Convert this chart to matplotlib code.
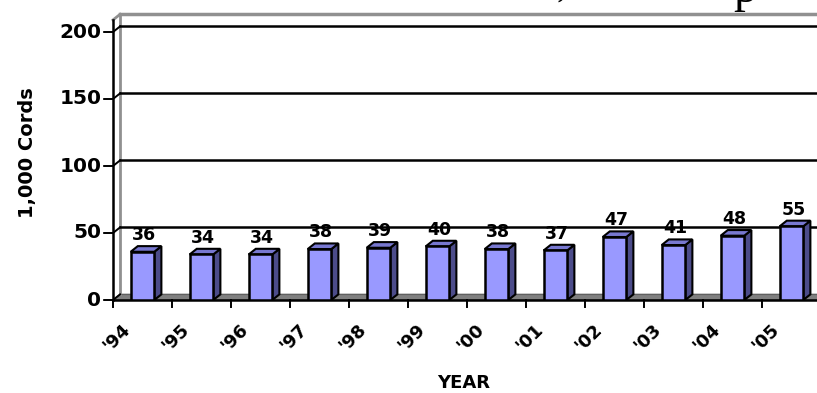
import numpy as np
import matplotlib
matplotlib.use("Agg")
import matplotlib.pyplot as plt
from matplotlib.patches import Polygon, Rectangle
from matplotlib.transforms import offset_copy

years = ["'94", "'95", "'96", "'97", "'98", "'99", "'00", "'01", "'02", "'03", "'04", "'05"]
cords = [36, 34, 34, 38, 39, 40, 38, 37, 47, 41, 48, 55]
yticks = [0, 50, 100, 150, 200]

plt.rcParams['font.family'] = ['DejaVu Sans']

fig = plt.figure(figsize=(8.17, 3.93), dpi=100)
ax = fig.add_axes([113 / 817, 93 / 393, 708 / 817, 268 / 393])
ax.set_xlim(0, len(years))
ax.set_ylim(0, 200)
ax.axis('off')

# 3d depth in data units
dx, dy = 0.12, 4.2
w = 0.40
n = len(years)

# back wall + floor
ax.add_patch(Polygon([(0, 0), (n + 1, 0), (n + 1 + dx, dy), (dx, dy)],
                     closed=True, fc='#808080', ec='#606060', lw=1, zorder=1, clip_on=False))
ax.plot([dx, dx], [dy, 209 + dy], color='#909090', lw=2, zorder=1, clip_on=False)
ax.plot([0, dx], [209, 209 + dy], color='#909090', lw=2, zorder=1, clip_on=False)
ax.plot([dx, n + 1], [209 + dy, 209 + dy], color='#909090', lw=2.5, zorder=1, clip_on=False)
for v in yticks[1:]:
    ax.plot([dx, n + 1], [v + dy, v + dy], color='black', lw=1.8, zorder=1, clip_on=False)
for v in yticks:
    ax.plot([-0.15, 0, dx], [v, v, v + dy], color='black', lw=1.4, zorder=3, clip_on=False)
    ax.text(-0.2, v, str(v), ha='right', va='center', fontsize=14.5, fontweight='bold')

# front axes lines
ax.plot([0, 0], [0, 209], color='black', lw=1.8, zorder=3, clip_on=False)
ax.plot([0, n + 1], [0, 0], color='black', lw=1.8, zorder=3, clip_on=False)
for i in range(n + 1):
    ax.plot([i, i], [0, -5], color='black', lw=1.4, zorder=3, clip_on=False)

# bars
for i, v in enumerate(cords):
    c = i + 0.5
    x0, x1 = c - w / 2, c + w / 2
    ax.add_patch(Polygon([(x1, 0), (x1 + dx, dy), (x1 + dx, v + dy), (x1, v)],
                         closed=True, fc='#4C4C8A', ec='black', lw=1.5, zorder=4))
    ax.add_patch(Polygon([(x0, v), (x1, v), (x1 + dx, v + dy), (x0 + dx, v + dy)],
                         closed=True, fc='#7878D0', ec='black', lw=1.5, zorder=4))
    ax.add_patch(Rectangle((x0, 0), w, v, fc='#9999FF', ec='black', lw=1.8, zorder=5))
    ax.text(c + 0.03, v + dy + 4.6, str(v), ha='center', va='baseline',
            fontsize=12.5, fontweight='bold', zorder=6)

# category labels
lab_tr = offset_copy(ax.transData, fig=fig, x=-26, y=-38, units='dots')
for i, yr in enumerate(years):
    ax.text(i + 0.5, 0, yr, transform=lab_tr, rotation=45, rotation_mode='anchor',
            ha='center', va='center', fontsize=13, fontweight='bold')

fig.text(464 / 817, 1 - 383 / 393, 'YEAR', ha='center', va='center',
         fontsize=13, fontweight='bold')
fig.text(28 / 817, 1 - 153 / 393, '1,000 Cords', ha='center', va='center',
         rotation=90, fontsize=14, fontweight='bold')

# cut-off text at the very top
fig.text(556 / 817, 1 + 4 / 393, ',', family='Liberation Serif', fontsize=28,
         ha='left', va='baseline')
fig.text(733 / 817, 1 - 2 / 393, 'p', family='Liberation Serif', fontsize=34,
         ha='left', va='baseline')

fig.savefig('out.png', dpi=100)
